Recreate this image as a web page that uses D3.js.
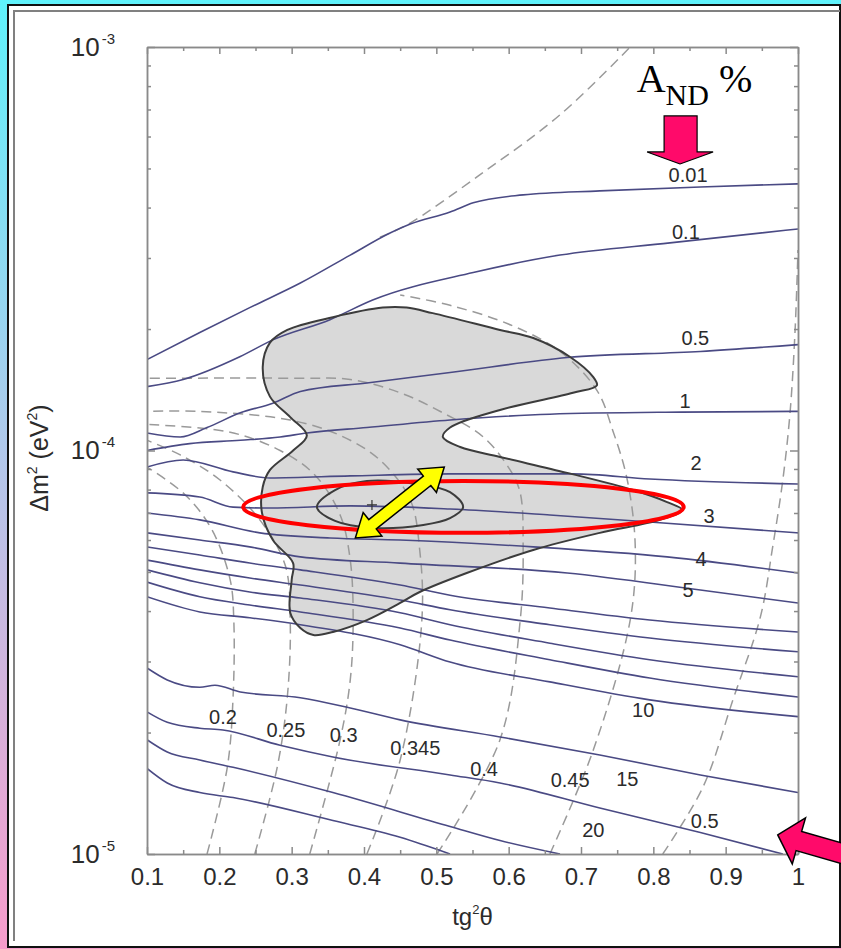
<!DOCTYPE html>
<html>
<head>
<meta charset="utf-8">
<script src="https://cdnjs.cloudflare.com/ajax/libs/d3/7.8.5/d3.min.js"></script>
<style>
  body { margin: 0; }
  svg { display: block; font-family: "Liberation Sans", Arial, Helvetica, sans-serif; }
  .axis path, .axis line { stroke: #8a8a8a; stroke-width: 1.5; }
  .axis text { fill: #2b2b2b; font-size: 24px; font-family: "Liberation Sans", Arial, sans-serif; }
  .yax text { font-size: 26px; }
  .andLine { fill: none; stroke: #4a4a84; stroke-width: 1.6; }
  .ratioLine { fill: none; stroke: #9a9a9a; stroke-width: 1.5; stroke-dasharray: 10 6; }
  .lbl { fill: #2b2b2b; font-size: 20px; text-anchor: middle; }
</style>
</head>
<body>
<svg id="chart" width="841" height="949"></svg>
<script>
// x: tg^2(theta), y: dm^2 in units of 1e-5 eV^2

// A_ND (%) iso-lines
const andLevels = ["0.01", "0.1", "0.5", "1", "2", "3", "4", "5", "6", "7", "8", "9", "10", "15", "20", "25", "30"];
const and001 = [[0.100,16.8],[0.173,19.6],[0.242,22.6],[0.312,26.0],[0.381,30.5],[0.436,34.6],[0.464,36.4],[0.519,39.0],[0.551,41.1],[0.620,43.0],[0.726,44.0],[0.865,45.0],[1.000,45.8]];
const and01 = [[0.100,14.4],[0.150,15.0],[0.229,17.1],[0.274,18.8],[0.353,21.1],[0.412,23.6],[0.551,27.6],[0.671,30.5],[0.823,32.7],[1.000,35.4]];
const and05 = [[0.100,11.05],[0.146,10.8],[0.183,11.4],[0.229,12.4],[0.274,13.1],[0.312,14.0],[0.404,14.7],[0.519,15.6],[0.681,17.0],[0.865,17.6],[1.000,18.3]];
const and1 = [[0.100,10.0],[0.159,10.4],[0.229,10.6],[0.284,10.8],[0.321,11.05],[0.404,11.4],[0.519,11.9],[0.657,12.3],[0.837,12.45],[1.000,12.5]];
const and2 = [[0.100,9.10],[0.150,9.47],[0.219,8.85],[0.270,8.55],[0.381,8.65],[0.519,8.75],[0.689,8.75],[0.795,8.50],[1.000,8.26]];
const and3 = [[0.100,7.85],[0.173,7.67],[0.219,7.24],[0.270,7.20],[0.381,7.29],[0.519,7.16],[0.657,6.92],[0.795,6.65],[1.000,6.25]];
const and4 = [[0.100,7.00],[0.173,6.73],[0.256,6.25],[0.353,6.07],[0.450,6.00],[0.634,5.77],[0.819,5.45],[1.000,4.97]];
const and5 = [[0.100,6.25],[0.173,6.00],[0.242,5.77],[0.312,5.45],[0.450,5.26],[0.681,4.97],[0.865,4.51],[1.000,4.19]];
const and6 = [[0.100,5.77],[0.173,5.51],[0.242,5.26],[0.312,5.06],[0.450,4.64],[0.519,4.38],[0.657,4.07],[0.795,3.80],[1.000,3.55]];
const and7 = [[0.100,5.35],[0.173,5.06],[0.242,4.83],[0.312,4.64],[0.450,4.26],[0.519,4.03],[0.657,3.70],[0.795,3.43],[1.000,3.17]];
const and8 = [[0.100,5.06],[0.173,4.70],[0.242,4.46],[0.312,4.31],[0.450,3.96],[0.519,3.70],[0.657,3.33],[0.795,3.03],[1.000,2.75]];
const and9 = [[0.100,4.72],[0.173,4.34],[0.242,4.14],[0.312,3.98],[0.450,3.63],[0.519,3.39],[0.657,3.03],[0.795,2.73],[1.000,2.45]];
const and10 = [[0.100,4.34],[0.173,3.98],[0.242,3.85],[0.312,3.70],[0.450,3.30],[0.519,2.99],[0.657,2.67],[0.795,2.41],[1.000,2.19]];
const and15 = [[0.100,2.89],[0.128,2.70],[0.173,2.59],[0.194,2.62],[0.229,2.52],[0.312,2.44],[0.381,2.30],[0.450,2.15],[0.588,1.95],[0.726,1.76],[0.865,1.57],[1.000,1.42]];
const and20 = [[0.100,2.25],[0.128,2.12],[0.173,2.05],[0.205,2.03],[0.284,1.86],[0.357,1.74],[0.519,1.57],[0.588,1.50],[0.726,1.30],[0.865,1.13],[0.979,1.00]];
const and25 = [[0.100,1.92],[0.128,1.79],[0.173,1.71],[0.219,1.64],[0.357,1.42],[0.519,1.17],[0.588,1.08],[0.671,1.00]];
const and30 = [[0.100,1.63],[0.128,1.50],[0.173,1.42],[0.219,1.38],[0.357,1.21],[0.450,1.10],[0.519,1.00]];
const andLines = [and001, and01, and05, and1, and2, and3, and4, and5, and6, and7, and8, and9, and10, and15, and20, and25, and30];

// printed A_ND labels and where they sit
const andLabelText = ["0.01", "0.1", "0.5", "1", "2", "3", "4", "5", "10", "15", "20"];
const andLabelAt = [[0.848,48.2],[0.845,34.8],[0.858,19.0],[0.844,13.3],[0.859,9.31],[0.877,6.88],[0.866,5.38],[0.848,4.51],[0.786,2.28],[0.764,1.54],[0.717,1.15]];

// dashed iso-lines
const ratio02 = [[0.183,1.00],[0.211,1.64],[0.219,2.45],[0.220,3.80],[0.215,4.78],[0.190,6.35],[0.153,7.76],[0.100,9.10]];
const ratio025 = [[0.249,1.00],[0.280,1.64],[0.294,2.45],[0.298,3.80],[0.291,5.20],[0.256,6.73],[0.201,8.45],[0.146,9.75],[0.100,10.6]];
const ratio03 = [[0.325,1.00],[0.367,1.92],[0.381,2.70],[0.385,3.80],[0.381,5.35],[0.367,6.92],[0.332,8.70],[0.284,10.0],[0.215,11.1],[0.100,11.6]];
const ratio0345 = [[0.404,1.00],[0.450,1.71],[0.480,3.80],[0.477,5.67],[0.464,7.54],[0.422,9.47],[0.367,10.9],[0.298,11.9],[0.173,12.5],[0.100,12.5]];
const ratio04 = [[0.501,1.00],[0.588,1.92],[0.616,3.80],[0.620,5.77],[0.616,7.85],[0.602,8.95],[0.565,10.8],[0.509,12.4],[0.450,13.9],[0.381,15.0],[0.312,15.1],[0.100,15.1]];
const ratio045 = [[0.657,1.00],[0.717,1.81],[0.768,3.80],[0.775,5.77],[0.764,8.45],[0.744,11.2],[0.722,14.1],[0.671,17.6],[0.602,20.5],[0.519,22.9],[0.450,24.3]];
const ratio05 = [[0.813,1.00],[0.869,1.47],[0.910,2.41],[0.948,3.87],[0.965,5.77],[0.979,8.45],[0.989,12.4],[0.996,19.9],[1.000,31.4]];
const ratioTop = [[0.422,33.8],[0.459,36.2],[0.560,48.2],[0.671,67.9],[0.768,100]];
const ratioLines = [ratio02, ratio025, ratio03, ratio0345, ratio04, ratio045, ratio05, ratioTop];
const ratioLabelText = ["0.2", "0.25", "0.3", "0.345", "0.4", "0.45", "0.5"];
const ratioLabelAt = [[0.205,2.19],[0.292,2.03],[0.372,1.97],[0.471,1.83],[0.566,1.63],[0.685,1.53],[0.871,1.21]];

// allowed region and inner contour
const allowed = [[0.459,22.6],[0.495,21.9],[0.588,19.9],[0.634,19.0],[0.685,17.05],[0.717,15.2],[0.722,14.5],[0.689,13.9],[0.588,12.6],[0.519,11.4],[0.509,10.8],[0.533,10.2],[0.588,9.64],[0.681,8.80],[0.772,7.98],[0.819,7.45],[0.840,7.12],[0.809,6.73],[0.726,6.25],[0.634,5.67],[0.542,4.97],[0.477,4.46],[0.450,4.19],[0.404,3.80],[0.357,3.55],[0.330,3.49],[0.312,3.63],[0.298,3.96],[0.300,4.78],[0.302,5.26],[0.274,6.00],[0.259,7.00],[0.260,8.12],[0.270,8.95],[0.302,10.0],[0.321,10.9],[0.298,12.1],[0.270,13.6],[0.260,16.1],[0.270,18.5],[0.294,19.9],[0.357,21.4],[0.426,22.6]];
const inner = [[0.335,7.24],[0.360,7.98],[0.404,8.40],[0.473,8.26],[0.519,7.89],[0.537,7.24],[0.519,6.80],[0.482,6.54],[0.412,6.43],[0.360,6.69]];
const bestFit = [0.411, 7.33];

// overlays
const ellipseTg2 = [0.233, 0.842];
const ellipseDm2 = [6.25, 8.40];
const yellowEnds = [[0.388, 6.07], [0.511, 9.10]];
const titleAt = [0.777, 77.4];
const topArrowTip = [0.837, 51.3];
const sideArrowTip = [0.972, 1.115];

// axes
const xMajor = d3.range(1, 11).map(i => i / 10);
const xMinor = d3.range(0, 9).map(i => 0.15 + i / 10);
const yMajor = [1, 10, 100];
const yMinor = [2, 3, 4, 5, 6, 7, 8, 9, 20, 30, 40, 50, 60, 70, 80, 90];

const W = 841, H = 949;
const pL = 147, pR = 798, pT = 47, pB = 854;

const svg = d3.select("#chart");
const defs = svg.append("defs");
const grad = defs.append("linearGradient").attr("id", "bg").attr("x1", 0).attr("y1", 0).attr("x2", 0).attr("y2", 1);
grad.append("stop").attr("offset", "0%").attr("stop-color", "#5ff2fb");
grad.append("stop").attr("offset", "50%").attr("stop-color", "#b5c6ea");
grad.append("stop").attr("offset", "100%").attr("stop-color", "#f79ccb");
defs.append("clipPath").attr("id", "plot").append("rect")
    .attr("x", pL).attr("y", pT).attr("width", pR - pL).attr("height", pB - pT);

svg.append("rect").attr("width", W).attr("height", H).attr("fill", "url(#bg)");
svg.append("rect").attr("x", 8).attr("y", 5).attr("width", 832).attr("height", 942)
    .attr("fill", "#fff").attr("stroke", "#111").attr("stroke-width", 2);
svg.append("path").attr("d", "M14,941V11H840").attr("fill", "none").attr("stroke", "#808080").attr("stroke-width", 2);

const x = d3.scaleLinear().domain([0.1, 1]).range([pL, pR]);
const y = d3.scaleLog().domain([1, 100]).range([pB, pT]);

const plot = svg.append("g").attr("clip-path", "url(#plot)");

const closed = d3.line().x(d => x(d[0])).y(d => y(d[1])).curve(d3.curveCatmullRomClosed.alpha(0.5));
const smooth = d3.line().x(d => x(d[0])).y(d => y(d[1])).curve(d3.curveMonotoneX);
const bend = d3.line().x(d => x(d[0])).y(d => y(d[1])).curve(d3.curveCatmullRom.alpha(0.5));

plot.append("path").attr("d", closed(allowed)).attr("fill", "#d9d9d9").attr("stroke", "none");

plot.selectAll(".ratioLine").data(ratioLines).join("path")
    .attr("class", "ratioLine").attr("d", bend);

plot.selectAll(".andLine").data(andLines).join("path")
    .attr("class", "andLine").attr("d", smooth);

plot.append("path").attr("d", closed(allowed)).attr("fill", "none").attr("stroke", "#3c3c3c").attr("stroke-width", 2);
plot.append("path").attr("d", closed(inner)).attr("fill", "none").attr("stroke", "#3c3c3c").attr("stroke-width", 2);
plot.append("path")
    .attr("d", `M${x(bestFit[0]) - 5},${y(bestFit[1])}h10M${x(bestFit[0])},${y(bestFit[1]) - 5}v10`)
    .attr("stroke", "#333").attr("stroke-width", 1.2);

// axes (ticks pointing inward on all four sides)
svg.append("g").attr("class", "axis").attr("transform", `translate(0,${pB})`)
    .call(d3.axisBottom(x).tickValues(xMajor).tickSizeInner(-7).tickSizeOuter(0).tickPadding(14)
        .tickFormat(d => d === 1 ? "1" : d3.format(".1f")(d)));
svg.append("g").attr("class", "axis").attr("transform", `translate(0,${pB})`)
    .call(d3.axisBottom(x).tickValues(xMinor).tickSizeInner(-4).tickSizeOuter(0).tickFormat(""));
svg.append("g").attr("class", "axis").attr("transform", `translate(0,${pT})`)
    .call(d3.axisTop(x).tickValues(xMajor).tickSizeInner(-7).tickSizeOuter(0).tickFormat(""));
svg.append("g").attr("class", "axis").attr("transform", `translate(0,${pT})`)
    .call(d3.axisTop(x).tickValues(xMinor).tickSizeInner(-4).tickSizeOuter(0).tickFormat(""));

const yAxis = svg.append("g").attr("class", "axis yax").attr("transform", `translate(${pL},0)`)
    .call(d3.axisLeft(y).tickValues(yMajor).tickSizeInner(-8).tickSizeOuter(0).tickPadding(32).tickFormat(""));
yAxis.selectAll(".tick text").each(function(d) {
    const t = d3.select(this);
    t.append("tspan").text("10");
    t.append("tspan").attr("dy", -12).attr("dx", 2).attr("font-size", 15).text("-" + (5 - Math.round(Math.log10(d))));
});
svg.append("g").attr("class", "axis").attr("transform", `translate(${pL},0)`)
    .call(d3.axisLeft(y).tickValues(yMinor).tickSizeInner(-4).tickSizeOuter(0).tickFormat(""));
svg.append("g").attr("class", "axis").attr("transform", `translate(${pR},0)`)
    .call(d3.axisRight(y).tickValues(yMajor).tickSizeInner(-8).tickSizeOuter(0).tickFormat(""));
svg.append("g").attr("class", "axis").attr("transform", `translate(${pR},0)`)
    .call(d3.axisRight(y).tickValues(yMinor).tickSizeInner(-4).tickSizeOuter(0).tickFormat(""));

// axis titles
const xt = svg.append("text").attr("x", (pL + pR) / 2).attr("y", 925)
    .attr("text-anchor", "middle").attr("font-size", 24).attr("fill", "#2b2b2b");
xt.append("tspan").text("tg");
xt.append("tspan").attr("dy", -11).attr("font-size", 13).text("2");
xt.append("tspan").attr("dy", 11).text("θ");

const yt = svg.append("text").attr("transform", `translate(48,458) rotate(-90)`)
    .attr("text-anchor", "middle").attr("font-size", 25).attr("fill", "#2b2b2b");
yt.append("tspan").text("Δm");
yt.append("tspan").attr("dy", -11).attr("font-size", 14).text("2");
yt.append("tspan").attr("dy", 11).text(" (eV");
yt.append("tspan").attr("dy", -11).attr("font-size", 14).text("2");
yt.append("tspan").attr("dy", 11).text(")");

// contour labels
svg.selectAll(".andLbl").data(andLabelText).join("text")
    .attr("class", "lbl andLbl")
    .attr("x", (d, i) => x(andLabelAt[i][0]))
    .attr("y", (d, i) => y(andLabelAt[i][1]))
    .attr("dy", "0.36em")
    .text(d => d);
svg.selectAll(".ratioLbl").data(ratioLabelText).join("text")
    .attr("class", "lbl ratioLbl")
    .attr("x", (d, i) => x(ratioLabelAt[i][0]))
    .attr("y", (d, i) => y(ratioLabelAt[i][1]))
    .attr("dy", "0.36em")
    .text(d => d);

// red ellipse
const ex0 = x(ellipseTg2[0]), ex1 = x(ellipseTg2[1]);
const ey0 = y(ellipseDm2[1]), ey1 = y(ellipseDm2[0]);
svg.append("ellipse")
    .attr("cx", (ex0 + ex1) / 2).attr("cy", (ey0 + ey1) / 2)
    .attr("rx", (ex1 - ex0) / 2).attr("ry", (ey1 - ey0) / 2)
    .attr("fill", "none").attr("stroke", "#ff0000").attr("stroke-width", 4);

// yellow double arrow
const ya = yellowEnds.map(d => [x(d[0]), y(d[1])]);
const yLen = Math.hypot(ya[1][0] - ya[0][0], ya[1][1] - ya[0][1]);
const yAng = Math.atan2(ya[1][1] - ya[0][1], ya[1][0] - ya[0][0]) * 180 / Math.PI;
const hl = 22, hw = 15, sw = 6;
svg.append("polygon")
    .attr("points", [[0,0],[hl,-hw],[hl,-sw],[yLen-hl,-sw],[yLen-hl,-hw],[yLen,0],[yLen-hl,hw],[yLen-hl,sw],[hl,sw],[hl,hw]].join(" "))
    .attr("transform", `translate(${ya[0][0]},${ya[0][1]}) rotate(${yAng})`)
    .attr("fill", "#ffff00").attr("stroke", "#000").attr("stroke-width", 1.5).attr("stroke-linejoin", "miter");

// A_ND % heading and pink arrows
const tx = x(titleAt[0]), ty = y(titleAt[1]);
const title = svg.append("text").attr("x", tx).attr("y", ty)
    .attr("font-family", "'Liberation Serif', 'Times New Roman', serif").attr("font-size", 40).attr("fill", "#000");
title.append("tspan").text("A");
title.append("tspan").attr("dy", 13).attr("font-size", 30).text("ND");
title.append("tspan").attr("dy", -13).attr("dx", 10).text("%");

const px = x(topArrowTip[0]), py = y(topArrowTip[1]);
svg.append("polygon")
    .attr("points", [[0,0],[-33,-12],[-16,-12],[-16,-48],[17,-48],[17,-12],[33,-12]].join(" "))
    .attr("transform", `translate(${px},${py})`)
    .attr("fill", "#ff0a6a").attr("stroke", "#000").attr("stroke-width", 1.2);

const sx = x(sideArrowTip[0]), sy = y(sideArrowTip[1]);
svg.append("polygon")
    .attr("points", [[0,0],[22,-24],[22,-10],[110,-10],[110,10],[22,10],[22,24]].join(" "))
    .attr("transform", `translate(${sx},${sy}) rotate(16)`)
    .attr("fill", "#ff0a6a").attr("stroke", "#000").attr("stroke-width", 1.5);
</script>
</body>
</html>
